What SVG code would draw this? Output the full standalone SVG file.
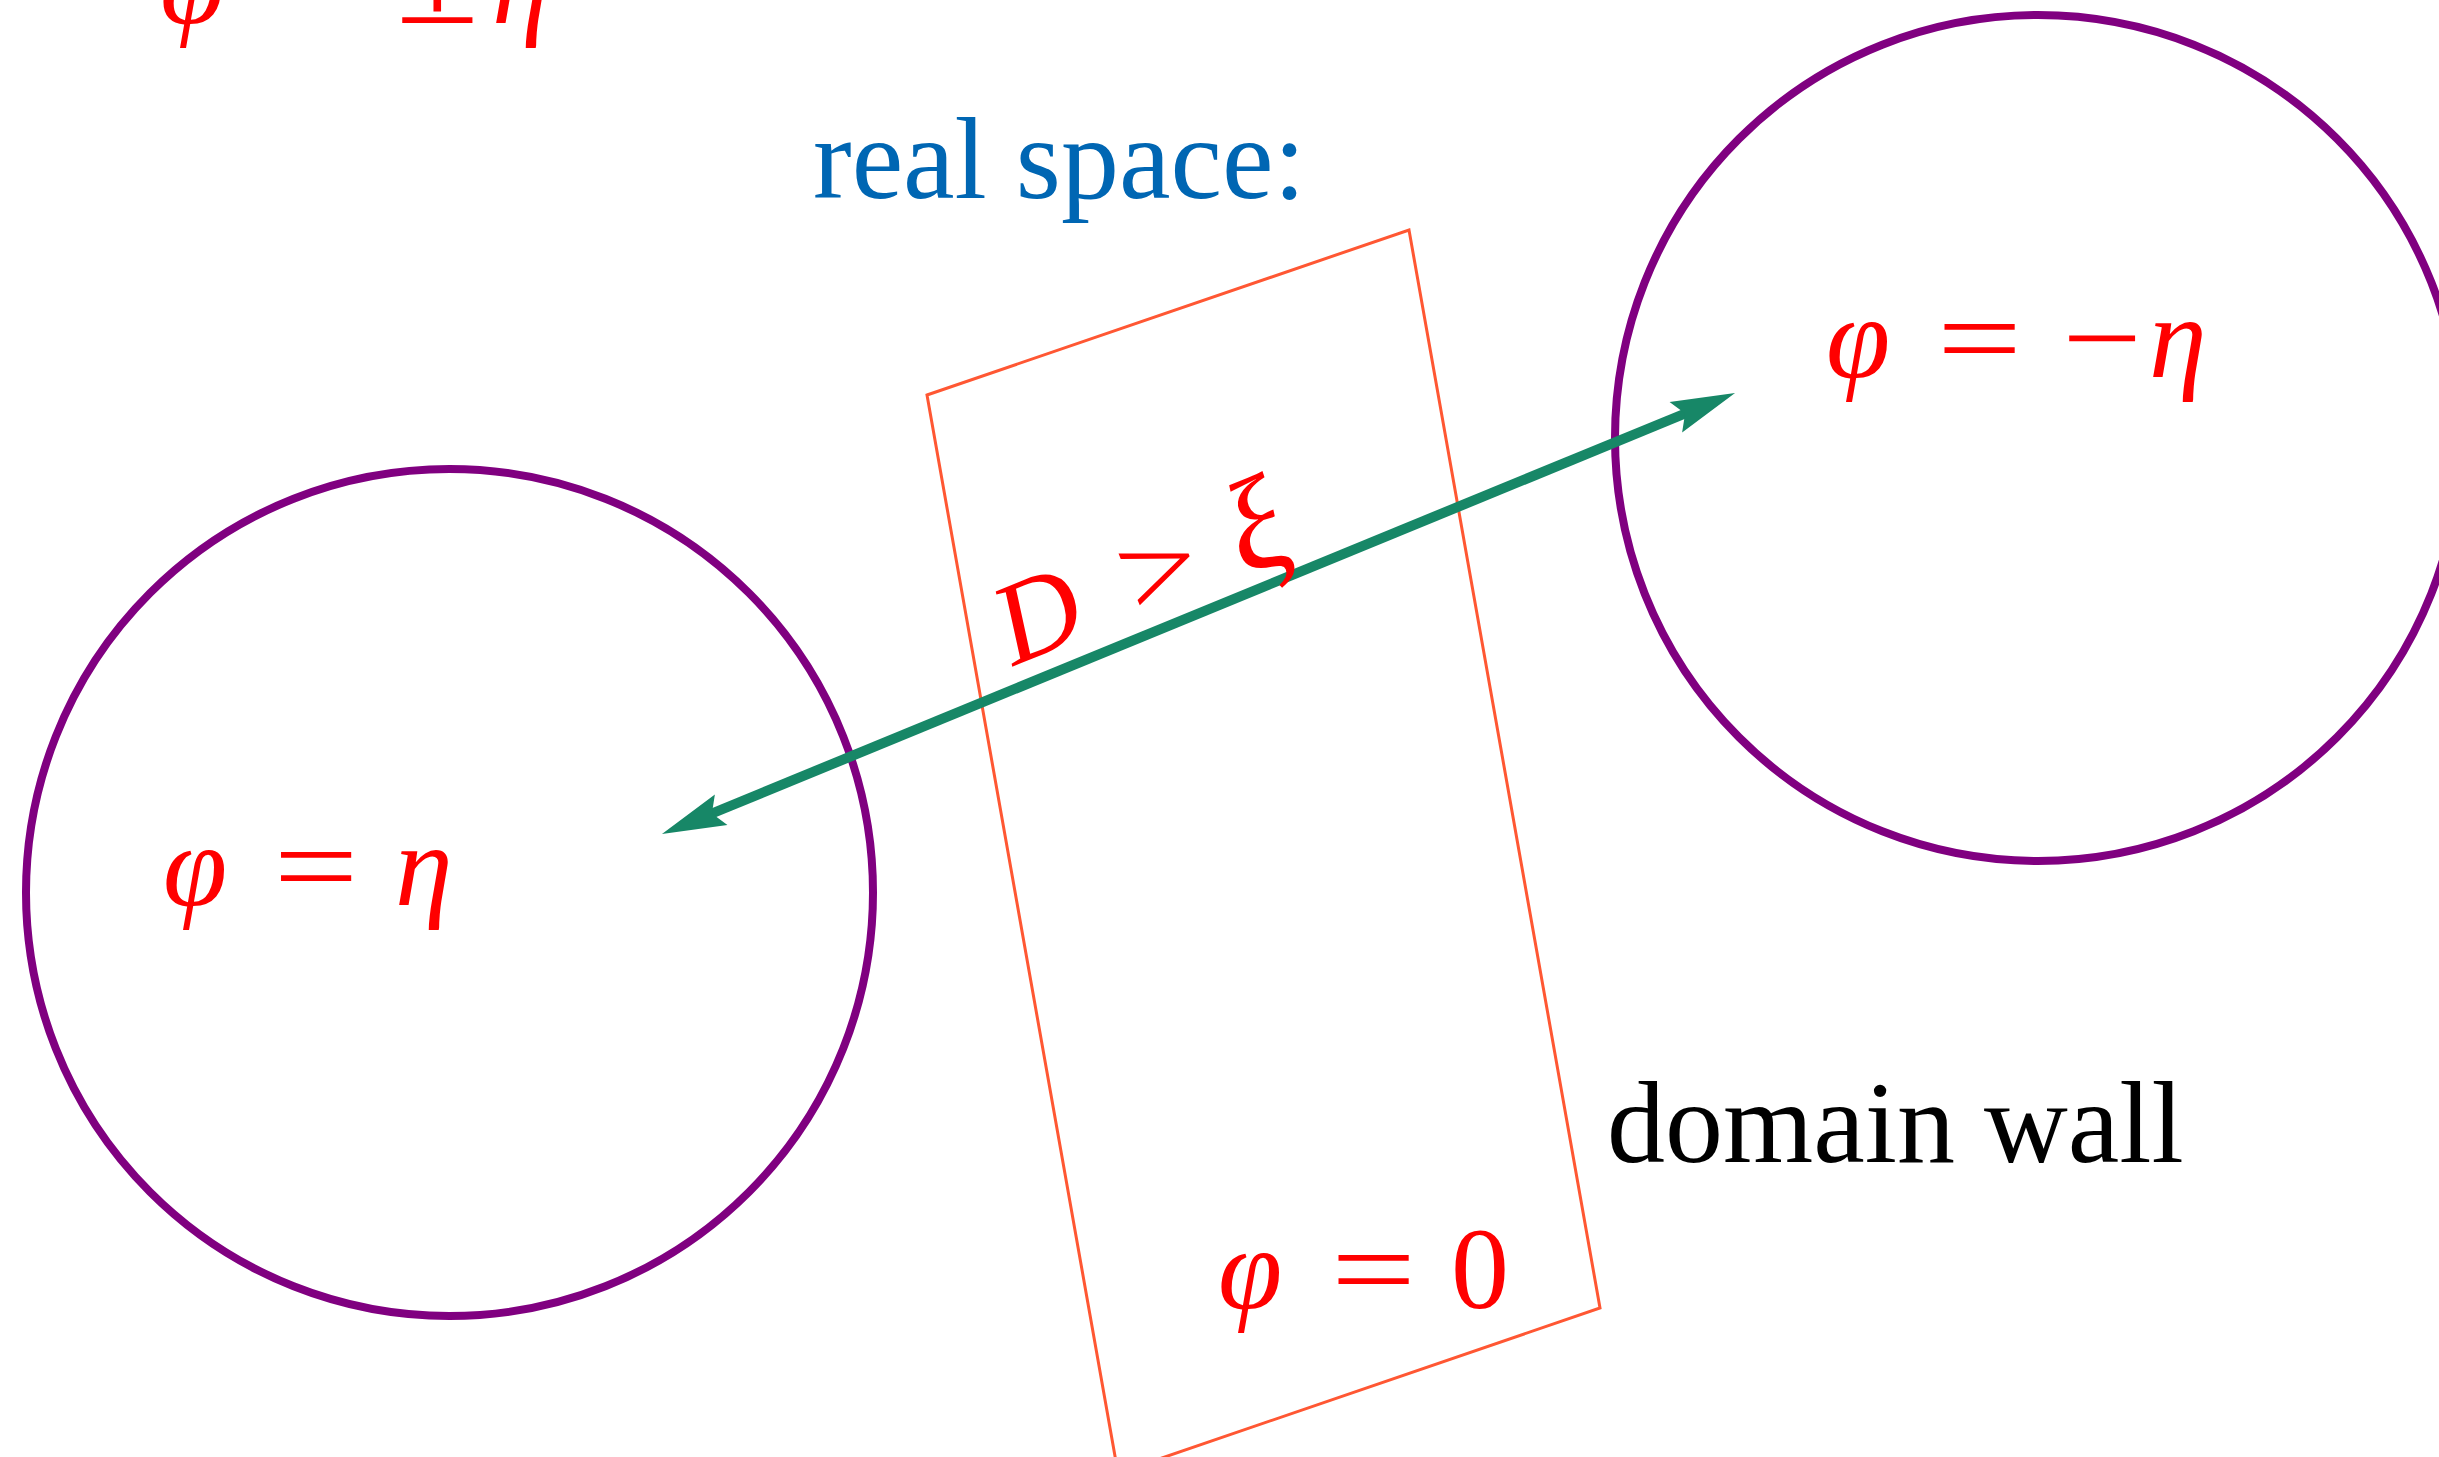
<svg xmlns="http://www.w3.org/2000/svg" width="2439" height="1457" viewBox="0 0 2439 1457">
<style>
.m{font-family:"Liberation Serif",serif;font-size:116px;fill:#ff0000}
.it{font-style:italic}
.lbl{font-family:"Liberation Serif",serif;font-size:116px}
.circle{fill:none;stroke:#800080;stroke-width:8}
.wall{fill:none;stroke:#ff5733;stroke-width:3;stroke-linejoin:miter}
.conn{stroke:#178767;stroke-width:10;fill:none;marker-start:url(#ah);marker-end:url(#ah)}
</style>
<defs>
<marker id="ah" markerUnits="userSpaceOnUse" markerWidth="72" markerHeight="40" refX="20" refY="20" orient="auto-start-reverse">
<path d="M70,20 L6,3.5 L16,20 L6,36.5 Z" fill="#178767"/>
</marker>
</defs>
<rect width="2439" height="1457" fill="#ffffff"/>

<g id="top-label">
<text class="m it" x="160" y="23">φ</text>
<text class="m" transform="translate(273,23) scale(1.3,1)">=</text>
<text class="m" transform="translate(396,23) scale(1.3,1)">±</text>
<text class="m it" x="492" y="23">η</text>
</g>

<g id="left-domain">
<circle class="circle" cx="449.5" cy="892.5" r="423.5"/>
<text class="m it" x="163" y="905">φ</text>
<text class="m" transform="translate(273.5,905) scale(1.3,1)">=</text>
<text class="m it" x="395" y="905">η</text>
</g>

<g id="right-domain">
<circle class="circle" cx="2038" cy="438" r="423"/>
<text class="m it" x="1826" y="377">φ</text>
<text class="m" transform="translate(1937,377) scale(1.3,1)">=</text>
<text class="m" transform="translate(2062,377) scale(1.22,1)">−</text>
<text class="m it" x="2149" y="377">η</text>
</g>

<g id="domain-wall">
<polygon class="wall" points="927,395 1409,230 1600,1308 1118,1473"/>
<text class="m it" x="1218" y="1308">φ</text>
<text class="m" transform="translate(1331,1308) scale(1.3,1)">=</text>
<text class="m" x="1451" y="1308">0</text>
</g>

<g id="real-space-title">
<text class="lbl" x="813" y="198" fill="#0066b3">real space:</text>
</g>

<g id="domain-wall-label">
<text class="lbl" x="1607" y="1162" fill="#000000">domain wall</text>
</g>

<g id="connectors">
<line class="conn" x1="708.2" y1="815.0" x2="1688.8" y2="412.0"/>
<g transform="translate(1005,672) rotate(-22.3)">
<text class="m it" x="10" y="-2">D</text>
<text class="m" transform="translate(143,0) scale(1.2,1)">&gt;</text>
<text class="m it" x="258" y="4" style="font-size:132px">ξ</text>
</g>
</g>
</svg>
